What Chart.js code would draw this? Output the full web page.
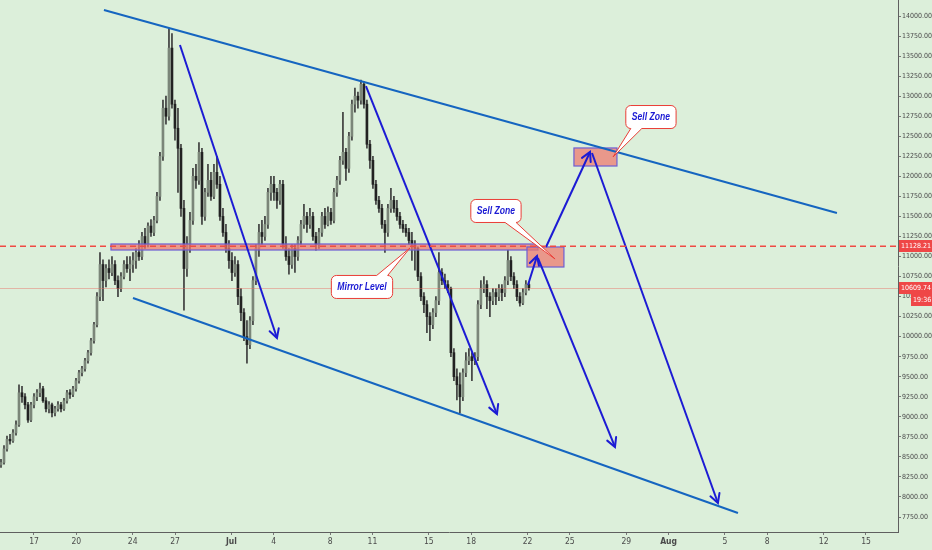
<!DOCTYPE html>
<html>
<head>
<meta charset="utf-8">
<script src="https://cdn.jsdelivr.net/npm/chart.js@4.4.1/dist/chart.umd.min.js"></script>
<style>
  html, body { margin: 0; padding: 0; background: #dcefda; }
  #wrap { width: 932px; height: 550px; }
</style>
</head>
<body>
<div id="wrap"><canvas id="chart" width="932" height="550"></canvas></div>
<script>
// x values are days counted from May 31 (17 = Jun 17, 31 = Jul 1, 62 = Aug 1)
const candleStartDay = 14.66;
const candleStepDay = 0.2127;

// [open, high, low, close]
const ohlc = [
  [8400, 8470, 8370, 8430], [8430, 8640, 8410, 8600], [8600, 8760, 8570, 8720], [8720, 8780, 8660, 8700], [8700, 8840, 8680, 8800],
  [8800, 8950, 8770, 8900], [8900, 9400, 8880, 9300], [9300, 9380, 9180, 9250], [9250, 9290, 9100, 9150], [9150, 9180, 8930, 8960],
  [8960, 9180, 8940, 9150], [9150, 9290, 9110, 9250], [9250, 9340, 9200, 9300], [9300, 9420, 9250, 9350], [9350, 9380, 9180, 9200],
  [9200, 9240, 9060, 9100], [9100, 9190, 9050, 9150], [9150, 9170, 9000, 9050], [9050, 9130, 9010, 9100], [9100, 9190, 9070, 9150],
  [9150, 9180, 9060, 9100], [9100, 9230, 9080, 9200], [9200, 9330, 9170, 9300], [9300, 9340, 9230, 9280], [9280, 9380, 9250, 9350],
  [9350, 9480, 9320, 9450], [9450, 9580, 9420, 9550], [9550, 9630, 9510, 9600], [9600, 9730, 9570, 9700], [9700, 9830, 9670, 9800],
  [9800, 9980, 9770, 9950], [9950, 10180, 9920, 10150], [10150, 10550, 10120, 10500], [10500, 11050, 10450, 10900], [10900, 10960, 10450, 10700],
  [10700, 10900, 10620, 10850], [10850, 10960, 10720, 10800], [10800, 11000, 10760, 10900], [10900, 10950, 10650, 10700], [10700, 10760, 10500, 10600],
  [10600, 10800, 10560, 10750], [10750, 10950, 10720, 10900], [10900, 11000, 10800, 10850], [10850, 11000, 10700, 10900], [10900, 11050, 10800, 10950],
  [10950, 11100, 10850, 11050], [11050, 11200, 10950, 11000], [11000, 11300, 10960, 11250], [11250, 11350, 11100, 11150], [11150, 11420, 11120, 11380],
  [11380, 11460, 11250, 11300], [11300, 11500, 11260, 11450], [11450, 11800, 11420, 11750], [11750, 12300, 11700, 12250], [12250, 12950, 12200, 12850],
  [12850, 13000, 12650, 12750], [12750, 13850, 12700, 13600], [13600, 13780, 12850, 12900], [12900, 12950, 12450, 12600], [12600, 12850, 11800, 12350],
  [12350, 12400, 11500, 11600], [11600, 11700, 10330, 10850], [10850, 11250, 10750, 11150], [11150, 11550, 11050, 11450], [11450, 12100, 11400, 12000],
  [12000, 12150, 11850, 11950], [11950, 12420, 11900, 12300], [12300, 12350, 11400, 11500], [11500, 11850, 11450, 11800], [11800, 12150, 11750, 11950],
  [11950, 12050, 11700, 11750], [11750, 12150, 11720, 12050], [12050, 12250, 11850, 11900], [11900, 12000, 11450, 11500], [11500, 11600, 11250, 11300],
  [11300, 11400, 11050, 11100], [11100, 11200, 10850, 10950], [10950, 11050, 10700, 10800], [10800, 11000, 10750, 10900], [10900, 10950, 10400, 10500],
  [10500, 10600, 10200, 10300], [10300, 10350, 9950, 10000], [10000, 10200, 9670, 9900], [9900, 10250, 9850, 10200], [10200, 10750, 10150, 10700],
  [10700, 11150, 10650, 11100], [11100, 11400, 11000, 11300], [11300, 11450, 11150, 11250], [11250, 11500, 11200, 11400], [11400, 11850, 11350, 11800],
  [11800, 12000, 11700, 11900], [11900, 12000, 11700, 11800], [11800, 11850, 11600, 11700], [11700, 11950, 11650, 11900], [11900, 11950, 11100, 11150],
  [11150, 11250, 10950, 11000], [11000, 11100, 10780, 10900], [10900, 11150, 10850, 11100], [11100, 11150, 10800, 11000], [11000, 11250, 10950, 11200],
  [11200, 11450, 11150, 11400], [11400, 11650, 11350, 11500], [11500, 11550, 11300, 11400], [11400, 11600, 11350, 11500], [11500, 11550, 11200, 11250],
  [11250, 11300, 11080, 11150], [11150, 11350, 11100, 11300], [11300, 11550, 11250, 11500], [11500, 11600, 11350, 11400], [11400, 11620, 11380, 11550],
  [11550, 11600, 11400, 11450], [11450, 11850, 11420, 11800], [11800, 12000, 11750, 11950], [11950, 12250, 11900, 12200], [12200, 12800, 12150, 12300],
  [12300, 12350, 11950, 12100], [12100, 12550, 12050, 12500], [12500, 12950, 12450, 12900], [12900, 13100, 12800, 13000], [13000, 13050, 12850, 12950],
  [12950, 13200, 12900, 13150], [13150, 13180, 12850, 12900], [12900, 12950, 12350, 12400], [12400, 12450, 12100, 12200], [12200, 12250, 11850, 11900],
  [11900, 11950, 11650, 11700], [11700, 11750, 11550, 11600], [11600, 11650, 11350, 11400], [11400, 11450, 11050, 11300], [11300, 11650, 11250, 11600],
  [11600, 11850, 11550, 11700], [11700, 11750, 11550, 11600], [11600, 11700, 11450, 11500], [11500, 11550, 11350, 11400], [11400, 11450, 11300, 11350],
  [11350, 11400, 11250, 11300], [11300, 11350, 11150, 11200], [11200, 11300, 10950, 11150], [11150, 11200, 10830, 11100], [11100, 11120, 10700, 10750],
  [10750, 10800, 10450, 10500], [10500, 10550, 10300, 10400], [10400, 10450, 10050, 10250], [10250, 10300, 9950, 10150], [10150, 10350, 10100, 10300],
  [10300, 10500, 10250, 10450], [10450, 11050, 10400, 10800], [10800, 10850, 10650, 10700], [10700, 10780, 10600, 10650], [10650, 10700, 10550, 10600],
  [10600, 10620, 9750, 9800], [9800, 9850, 9450, 9500], [9500, 9600, 9210, 9400], [9400, 9550, 9050, 9250], [9250, 9600, 9200, 9550],
  [9550, 9800, 9500, 9700], [9700, 9850, 9650, 9750], [9750, 9800, 9450, 9700], [9700, 9800, 9650, 9750], [9750, 10450, 9700, 10400],
  [10400, 10700, 10350, 10600], [10600, 10750, 10550, 10650], [10650, 10700, 10350, 10500], [10500, 10550, 10250, 10450], [10450, 10600, 10400, 10550],
  [10550, 10600, 10400, 10500], [10500, 10650, 10450, 10600], [10600, 10650, 10450, 10550], [10550, 10750, 10500, 10700], [10700, 11080, 10650, 10950],
  [10950, 11000, 10700, 10750], [10750, 10800, 10600, 10650], [10650, 10700, 10450, 10500], [10500, 10550, 10380, 10420], [10420, 10600, 10400, 10550],
  [10550, 10700, 10520, 10650], [10650, 10680, 10580, 10610]
];

const dayTicks = [17, 20, 24, 27, 31, 34, 38, 41, 45, 48, 52, 55, 59, 62, 66, 69, 73, 76];
const dayLabels = ['17', '20', '24', '27', 'Jul', '4', '8', '11', '15', '18', '22', '25', '29', 'Aug', '5', '8', '12', '15'];
const priceTicks = [7750, 8000, 8250, 8500, 8750, 9000, 9250, 9500, 9750, 10000, 10250, 10500, 10750,
  11000, 11250, 11500, 11750, 12000, 12250, 12500, 12750, 13000, 13250, 13500, 13750, 14000];

// drawings, in [day, price]
const channelUpper = [[21.96, 14075], [73.94, 11543]];
const channelLower = [[24.02, 10482], [66.92, 7800]];
const arrows = [
  [[27.35, 13639], [34.23, 9983]],
  [[40.54, 13127], [49.83, 9035]],
  [[52.03, 10645], [52.67, 11006]],
  [[53.31, 11119], [56.43, 12304]],
  [[52.74, 10981], [58.20, 8624]],
  [[56.57, 12291], [65.50, 7925]]
];
const mirrorBand = { from: 22.46, to: 52.74, low: 11081, high: 11156 };
const sellBoxes = [
  { from: 51.96, to: 54.58, low: 10869, high: 11119 },
  { from: 55.29, to: 58.34, low: 12129, high: 12354 }
];
const callouts = [
  { text: 'Mirror Level', day: 40.26, price: 10620, tipDay: 43.66, tipPrice: 11106 },
  { text: 'Sell Zone', day: 49.76, price: 11568, tipDay: 53.95, tipPrice: 10969 },
  { text: 'Sell Zone', day: 60.75, price: 12740, tipDay: 58.06, tipPrice: 12241 }
];
const mirrorLevel = 11128.21;
const lastPrice = 10609.74;
const lastTime = '19:36';

const BG = '#dcefda';
const CHANNEL_BLUE = '#1565c0';
const ARROW_BLUE = '#1c1bd4';
const TAG_RED = '#ef4747';
const AXIS_FONT = "'Liberation Sans Narrow', 'DejaVu Sans Condensed', sans-serif";
const NARROW = 0.82; // squeeze for the callout text, the fonts here are wider

const candleX = i => candleStartDay + i * candleStepDay;
const isUp = i => ohlc[i][3] >= ohlc[i][0];

const wickData = ohlc.map((c, i) => ({ x: candleX(i), y: [c[2], c[1]] }));
const bodyData = ohlc.map((c, i) => ({ x: candleX(i), y: [Math.min(c[0], c[3]), Math.max(c[0], c[3])] }));

const lineSet = (pts, color) => ({
  type: 'line',
  data: pts.map(p => ({ x: p[0], y: p[1] })),
  borderColor: color,
  borderWidth: 2,
  pointRadius: 0,
  fill: false,
  tension: 0,
  order: 0
});

function calloutPath(ctx, l, t, r, b, rad, tail) {
  ctx.beginPath();
  ctx.moveTo(l + rad, t);
  if (tail.edge === 'top') {
    ctx.lineTo(tail.x1, t); ctx.lineTo(tail.tx, tail.ty); ctx.lineTo(tail.x2, t);
  }
  ctx.lineTo(r - rad, t);
  ctx.arcTo(r, t, r, t + rad, rad);
  ctx.lineTo(r, b - rad);
  ctx.arcTo(r, b, r - rad, b, rad);
  if (tail.edge === 'bottom') {
    ctx.lineTo(tail.x2, b); ctx.lineTo(tail.tx, tail.ty); ctx.lineTo(tail.x1, b);
  }
  ctx.lineTo(l + rad, b);
  ctx.arcTo(l, b, l, b - rad, rad);
  ctx.lineTo(l, t + rad);
  ctx.arcTo(l, t, l + rad, t, rad);
  ctx.closePath();
}

const drawings = {
  id: 'drawings',
  beforeDraw(chart) {
    const ctx = chart.ctx;
    ctx.save();
    ctx.fillStyle = BG;
    ctx.fillRect(0, 0, chart.width, chart.height);
    ctx.restore();
  },
  afterDatasetDraw(chart, args) {
    // zones go on top of the candle bodies, under the drawn lines
    if (args.index !== 1) return;
    const { ctx, scales: { x, y } } = chart;
    ctx.save();
    // thin current price line
    const ly = Math.round(y.getPixelForValue(lastPrice)) + 0.5;
    ctx.strokeStyle = 'rgba(232, 110, 100, 0.45)';
    ctx.lineWidth = 1;
    ctx.beginPath();
    ctx.moveTo(chart.chartArea.left, ly);
    ctx.lineTo(chart.chartArea.right, ly);
    ctx.stroke();

    const rect = z => {
      const l = x.getPixelForValue(z.from), r = x.getPixelForValue(z.to);
      const t = y.getPixelForValue(z.high), b = y.getPixelForValue(z.low);
      ctx.fillStyle = 'rgba(238, 118, 108, 0.72)';
      ctx.fillRect(l, t, r - l, b - t);
      ctx.strokeStyle = '#6d5fd3';
      ctx.lineWidth = 1.2;
      ctx.strokeRect(l, t, r - l, b - t);
    };
    rect(mirrorBand);
    sellBoxes.forEach(rect);
    ctx.restore();
  },
  afterDatasetsDraw(chart) {
    const { ctx, chartArea, scales: { x, y } } = chart;
    ctx.save();

    // arrow heads
    ctx.strokeStyle = ARROW_BLUE;
    ctx.lineWidth = 2;
    ctx.lineCap = 'round';
    arrows.forEach(a => {
      const x0 = x.getPixelForValue(a[0][0]), y0 = y.getPixelForValue(a[0][1]);
      const x1 = x.getPixelForValue(a[1][0]), y1 = y.getPixelForValue(a[1][1]);
      const ang = Math.atan2(y1 - y0, x1 - x0);
      const len = 10, spread = 0.5;
      ctx.beginPath();
      ctx.moveTo(x1 - len * Math.cos(ang - spread), y1 - len * Math.sin(ang - spread));
      ctx.lineTo(x1, y1);
      ctx.lineTo(x1 - len * Math.cos(ang + spread), y1 - len * Math.sin(ang + spread));
      ctx.stroke();
    });

    // mirror level dashed line
    const my = y.getPixelForValue(mirrorLevel);
    ctx.strokeStyle = '#f04a44';
    ctx.lineWidth = 1.5;
    ctx.lineCap = 'butt';
    ctx.setLineDash([6, 4]);
    ctx.beginPath();
    ctx.moveTo(chartArea.left, my);
    ctx.lineTo(chartArea.right, my);
    ctx.stroke();
    ctx.setLineDash([]);

    // callout labels
    ctx.font = "italic bold 10.5px 'Liberation Sans Narrow', 'Liberation Sans', sans-serif";
    ctx.textAlign = 'center';
    ctx.textBaseline = 'middle';
    callouts.forEach(c => {
      const cx = x.getPixelForValue(c.day), cy = y.getPixelForValue(c.price);
      const tx = x.getPixelForValue(c.tipDay), ty = y.getPixelForValue(c.tipPrice);
      const w = ctx.measureText(c.text).width * NARROW + 12, h = 23;
      const l = cx - w / 2, r = cx + w / 2, t = cy - h / 2, b = cy + h / 2;
      const tail = {
        edge: ty < t ? 'top' : 'bottom',
        x1: tx > cx ? r - 16 : l + 5,
        x2: tx > cx ? r - 5 : l + 16,
        tx, ty
      };
      calloutPath(ctx, l, t, r, b, 5, tail);
      ctx.fillStyle = '#ffffff';
      ctx.fill();
      ctx.strokeStyle = '#ea3d36';
      ctx.lineWidth = 1;
      ctx.stroke();
      ctx.save();
      ctx.translate(cx, cy + 0.5);
      ctx.scale(NARROW, 1);
      ctx.fillStyle = '#1c1bd4';
      ctx.fillText(c.text, 0, 0);
      ctx.restore();
    });
    ctx.restore();
  },
  afterDraw(chart) {
    const { ctx, chartArea, scales: { y } } = chart;
    ctx.save();
    ctx.font = '7px ' + AXIS_FONT;
    ctx.textBaseline = 'middle';
    ctx.textAlign = 'left';
    const tag = (value, text, left, dy) => {
      const py = Math.round(y.getPixelForValue(value)) + dy;
      ctx.fillStyle = TAG_RED;
      ctx.fillRect(left, py - 6, chart.width - left, 12);
      ctx.fillStyle = '#ffffff';
      ctx.fillText(text, left + 2, py + 0.5);
    };
    const axisLeft = chartArea.right + 1;
    tag(mirrorLevel, mirrorLevel.toFixed(2), axisLeft, 0);
    tag(lastPrice, lastPrice.toFixed(2), axisLeft, 0);
    tag(lastPrice, lastTime, axisLeft + 12, 12);
    ctx.restore();
  }
};

new Chart(document.getElementById('chart'), {
  type: 'line',
  data: {
    datasets: [
      lineSet(channelUpper, CHANNEL_BLUE),
      {
        type: 'bar',
        data: bodyData,
        backgroundColor: ctx => isUp(ctx.dataIndex) ? '#7b8679' : '#222222',
        borderWidth: 0,
        barThickness: 2,
        grouped: false,
        order: 2
      },
      {
        type: 'bar',
        data: wickData,
        backgroundColor: '#3c3c3c',
        borderWidth: 0,
        barThickness: 1,
        grouped: false,
        order: 3
      },
      lineSet(channelLower, CHANNEL_BLUE),
      ...arrows.map(a => lineSet(a, ARROW_BLUE))
    ]
  },
  options: {
    responsive: false,
    animation: false,
    devicePixelRatio: 1,
    layout: { padding: 0 },
    plugins: {
      legend: { display: false },
      tooltip: { enabled: false }
    },
    scales: {
      x: {
        type: 'linear',
        min: 14.589,
        max: 78.27,
        offset: false,
        afterBuildTicks: scale => { scale.ticks = dayTicks.map(v => ({ value: v })); },
        afterFit: scale => {
          scale.height = 18;
          scale.paddingLeft = 0;
          scale.paddingRight = 0;
        },
        grid: { drawOnChartArea: false, drawTicks: true, tickLength: 3, tickColor: '#777', offset: false },
        border: { display: true, color: '#5f5f5f', width: 1 },
        ticks: {
          autoSkip: false,
          maxRotation: 0,
          padding: 2,
          color: '#4a4a4a',
          font: ctx => ({
            family: AXIS_FONT,
            size: 8.5,
            weight: ctx.tick && (ctx.tick.value === 31 || ctx.tick.value === 62) ? 'bold' : 'normal'
          }),
          callback: (v, i) => dayLabels[i]
        }
      },
      y: {
        type: 'linear',
        position: 'right',
        min: 7563,
        max: 14200,
        afterBuildTicks: scale => { scale.ticks = priceTicks.map(v => ({ value: v })); },
        afterFit: scale => {
          scale.width = 34;
          scale.paddingTop = 0;
          scale.paddingBottom = 0;
        },
        grid: { drawOnChartArea: false, drawTicks: true, tickLength: 3, tickColor: '#777' },
        border: { display: true, color: '#5f5f5f', width: 1 },
        ticks: {
          padding: 1,
          color: '#4a4a4a',
          font: { family: AXIS_FONT, size: 7 },
          callback: v => Number(v).toFixed(2)
        }
      }
    }
  },
  plugins: [drawings]
});
</script>
</body>
</html>
